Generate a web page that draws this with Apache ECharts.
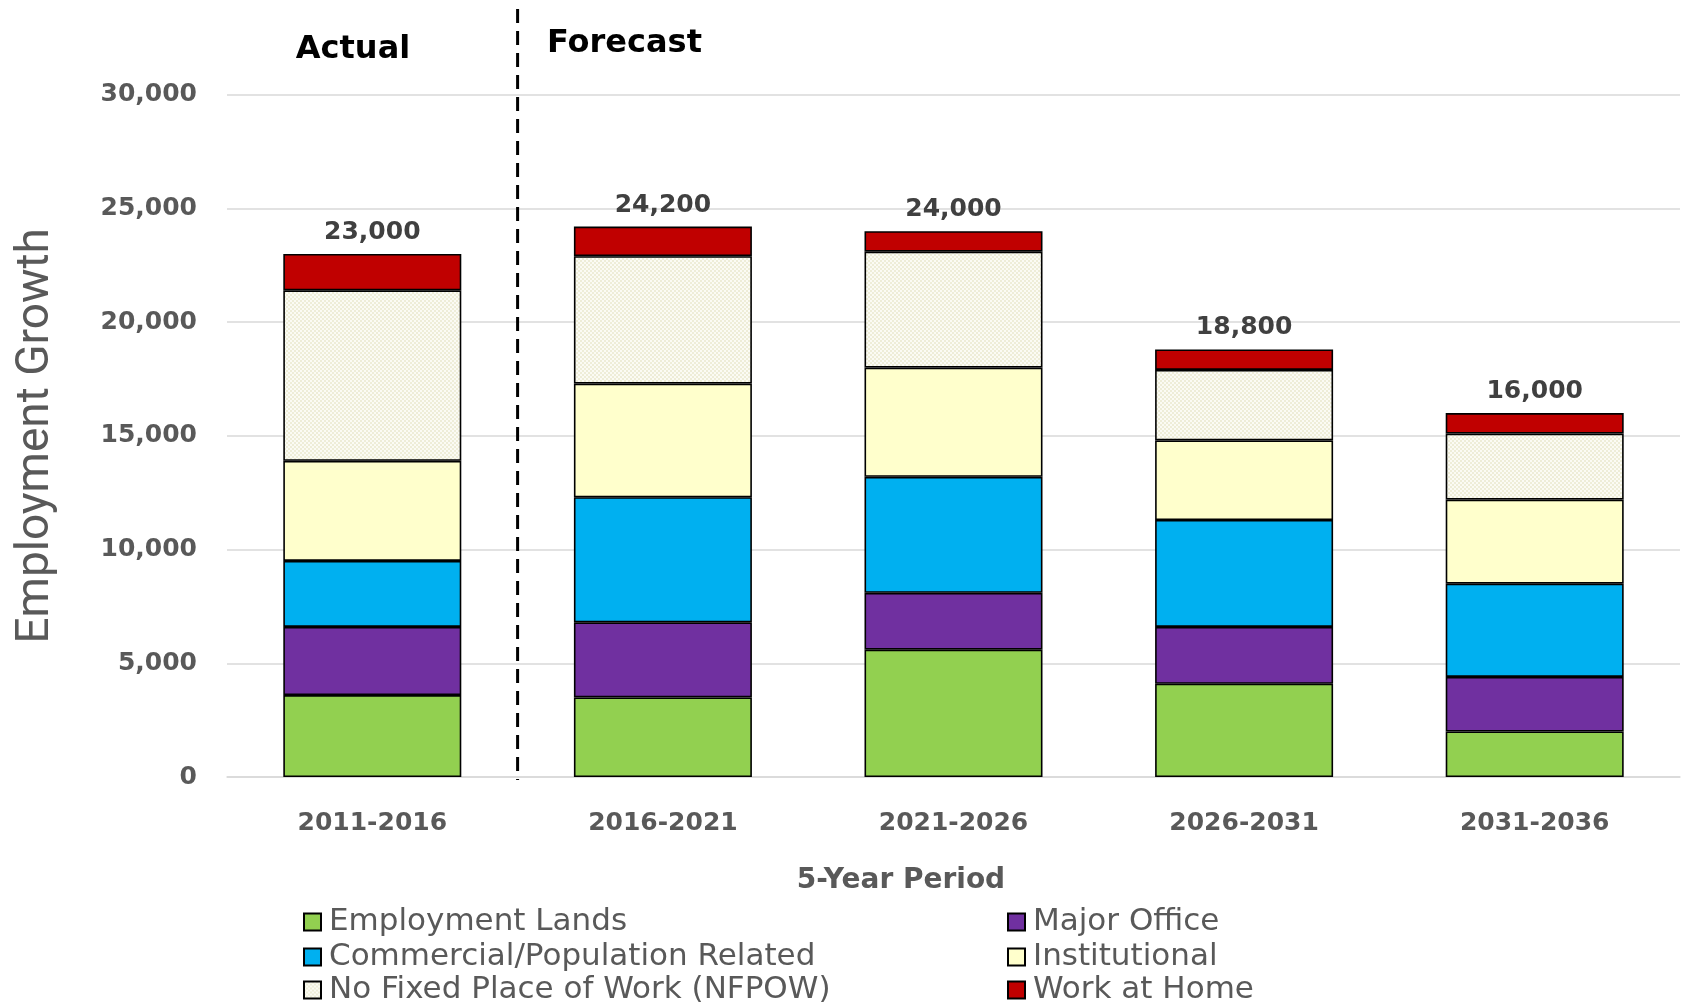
<!DOCTYPE html>
<html><head><meta charset="utf-8">
<script src="https://cdn.jsdelivr.net/npm/echarts@6/dist/echarts.min.js"></script>
<style>html,body{margin:0;padding:0;background:#fff}#c{width:1688px;height:1004px}</style>
</head><body><div id="c"></div>
<script>
const categories = ['2011-2016','2016-2021','2021-2026','2026-2031','2031-2036'];
const employmentLands = [3600, 3500, 5600, 4100, 2000];
const majorOffice     = [3000, 3300, 2500, 2500, 2400];
const commercial      = [2900, 5500, 5100, 4700, 4100];
const institutional   = [4400, 5000, 4800, 3500, 3700];
const nfpow           = [7500, 5600, 5100, 3100, 2900];
const workAtHome      = [1600, 1300,  900,  900,  900];
const totals          = [23000, 24200, 24000, 18800, 16000];
const yTicks = {min: 0, max: 30000, interval: 5000};

// pattern for NFPOW
const pc = document.createElement('canvas');
pc.width = 4; pc.height = 4;
const g = pc.getContext('2d');
g.fillStyle = '#fbfbf4'; g.fillRect(0,0,4,4);
g.fillStyle = '#eeedd8'; g.fillRect(0,0,2,2); g.fillRect(2,2,2,2);
const nfpowFill = {image: pc, repeat: 'repeat'};

const FONT = 'DejaVu Sans';
const GREY = '#595959';
const chart = echarts.init(document.getElementById('c'), null, {renderer: 'canvas'});
const border = {borderColor: '#000', borderWidth: 1.6};
function ser(name, data, color) {
  return {name, type: 'bar', stack: 'all', data, barWidth: 178,
    itemStyle: Object.assign({color}, border)};
}
const series = [
  ser('Employment Lands', employmentLands, '#92d050'),
  ser('Major Office', majorOffice, '#7030a0'),
  ser('Commercial/Population Related', commercial, '#00b0f0'),
  ser('Institutional', institutional, '#ffffcc'),
  ser('No Fixed Place of Work (NFPOW)', nfpow, nfpowFill),
  ser('Work at Home', workAtHome, '#c00000')
];
series[5].label = {show: true, position: 'top', distance: 9,
  formatter: p => totals[p.dataIndex].toLocaleString('en-US'),
  fontFamily: FONT, fontWeight: 'bold', fontSize: 25, color: '#404040'};

const legendNames = [
  ['Employment Lands', 303, 922], ['Commercial/Population Related', 303, 957], ['No Fixed Place of Work (NFPOW)', 303, 990],
  ['Major Office', 1007, 922], ['Institutional', 1007, 957], ['Work at Home', 1007, 990]
];
const legends = legendNames.map(([n, x, y]) => ({
  data: [n], left: x, top: y - 17, padding: 0, itemWidth: 17, itemHeight: 17, icon: 'rect',
  selectedMode: false,
  textStyle: {fontFamily: FONT, fontSize: 31, color: GREY, lineHeight: 34, padding: [0, 0, 0, 3]}
}));

chart.setOption({
  animation: false,
  grid: {left: 227, right: 8, top: 94.7, bottom: 227, containLabel: false, outerBoundsMode: 'none'},
  legend: legends,
  xAxis: {type: 'category', data: categories,
    axisLine: {lineStyle: {color: '#d9d9d9', width: 1.5}}, axisTick: {show: false},
    axisLabel: {fontFamily: FONT, fontWeight: 'bold', fontSize: 25, color: GREY, margin: 34}},
  yAxis: {type: 'value', min: yTicks.min, max: yTicks.max, interval: yTicks.interval,
    name: 'Employment Growth', nameLocation: 'middle', nameGap: 168,
    nameTextStyle: {fontFamily: 'Roboto', fontSize: 46, color: GREY},
    axisLine: {show: false}, axisTick: {show: false},
    splitLine: {lineStyle: {color: '#d9d9d9', width: 1.5}},
    axisLabel: {fontFamily: FONT, fontWeight: 'bold', fontSize: 25, color: GREY, margin: 30,
      formatter: v => v.toLocaleString('en-US')}},
  series
});

const x0 = chart.convertToPixel({xAxisIndex: 0}, categories[0]);
const x1 = chart.convertToPixel({xAxisIndex: 0}, categories[1]);
const xd = (x0 + x1) / 2;
chart.setOption({graphic: [
  {type: 'line', shape: {x1: xd, y1: 9, x2: xd, y2: 780},
   style: {stroke: '#000', lineWidth: 3, lineDash: [14, 8]}},
  {type: 'text', x: 353, y: 50, style: {text: 'Actual', fontFamily: FONT, fontWeight: 'bold', fontSize: 32, fill: '#000',
   align: 'center', verticalAlign: 'middle'}},
  {type: 'text', x: 547, y: 44, style: {text: 'Forecast', fontFamily: FONT, fontWeight: 'bold', fontSize: 32, fill: '#000',
   align: 'left', verticalAlign: 'middle'}},
  {type: 'text', x: 901, y: 881, style: {text: '5-Year Period', fontFamily: FONT, fontWeight: 'bold', fontSize: 28, fill: GREY,
   align: 'center', verticalAlign: 'middle'}}
]});
</script></body></html>
